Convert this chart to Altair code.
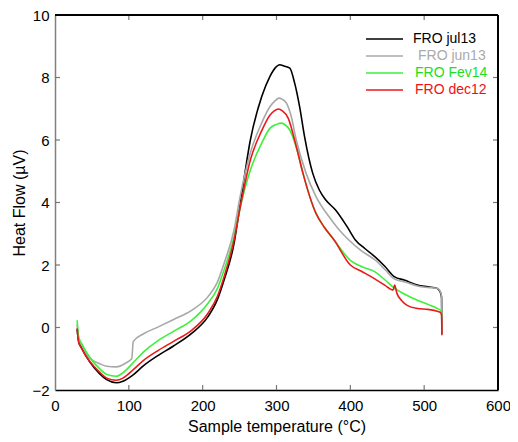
import altair as alt
import pandas as pd

# ---- data ----
series_names = ["FRO jul13", "FRO jun13", "FRO Fev14", "FRO dec12"]
series_colors = ["#000000", "#a8a8a8", "#3df03d", "#ea1a1a"]

jul13_T = [30, 32, 36, 47, 60, 70, 83, 92, 105, 120, 140, 160, 185, 207, 220, 229, 242.5,
           250, 264.6, 280, 291, 298, 304.5, 310, 318, 324.6, 331.3, 338, 349, 358, 366.8,
           380, 395, 406.8, 420, 433.5, 447, 460, 473, 490.7, 505, 517.8, 522, 523.6, 524]
jul13_HF = [-0.05, -0.45, -0.65, -1.10, -1.47, -1.67, -1.77, -1.72, -1.53, -1.22, -0.89, -0.60, -0.19, 0.34, 0.90, 1.52, 2.69,
            3.80, 6.00, 7.39, 8.03, 8.30, 8.41, 8.37, 8.30, 7.82, 7.07, 6.11, 4.94, 4.40, 4.08,
            3.76, 3.25, 2.80, 2.52, 2.26, 1.95, 1.62, 1.52, 1.36, 1.30, 1.25, 1.12, 0.95, -0.20]

jun13_T = [30, 32, 36, 47, 60, 70, 83, 95, 104, 106, 120, 140, 160, 185, 207, 220, 229, 242.5,
           250, 264.6, 280, 291.3, 298, 303.3, 308, 313.5, 320, 326.8, 340, 353.5, 371,
           385, 398, 415, 433.5, 447, 460, 475, 490.7, 505, 517.8, 522, 523.6, 524]
jun13_HF = [0.10, -0.35, -0.55, -0.98, -1.15, -1.24, -1.26, -1.15, -0.99, -0.45, -0.20, 0.02, 0.25, 0.55, 0.98, 1.45, 2.05, 3.12,
            4.10, 5.59, 6.55, 7.07, 7.25, 7.34, 7.30, 7.18, 6.75, 6.00, 4.94, 4.19, 3.55,
            3.12, 2.80, 2.45, 2.16, 1.85, 1.55, 1.45, 1.33, 1.28, 1.25, 1.15, 1.00, -0.20]

fev14_T = [30, 32, 36, 47, 60, 70, 83, 92, 105, 120, 140, 160, 185, 207, 220, 229, 242.5,
           250, 264.6, 280, 291.3, 300, 306.9, 312, 318, 329, 335.8, 353.5, 365, 378,
           400, 415, 433.5, 447, 460, 475, 490.7, 505, 517.8, 522, 523.6, 524]
fev14_HF = [0.23, -0.30, -0.51, -0.95, -1.31, -1.50, -1.56, -1.45, -1.15, -0.78, -0.41, -0.13, 0.23, 0.77, 1.25, 1.84, 2.90,
            3.75, 5.04, 5.90, 6.38, 6.50, 6.54, 6.48, 6.32, 5.58, 4.94, 3.65, 3.20, 2.80,
            2.15, 1.95, 1.78, 1.52, 1.25, 1.05, 0.875, 0.74, 0.61, 0.55, 0.45, 0.30]

dec12_T = [30, 32, 36, 47, 60, 70, 83, 92, 105, 120, 140, 160, 185, 207, 220, 229, 242.5,
           250, 264.6, 280, 291.3, 297, 302.5, 308, 315.8, 326.8, 335.8, 353.5, 365, 378,
           400, 415, 433.5, 447, 455, 458, 460, 463, 470, 477, 490.7, 505, 517.8, 522, 523.6, 524]
dec12_HF = [-0.03, -0.45, -0.67, -1.08, -1.42, -1.62, -1.69, -1.62, -1.37, -1.05, -0.73, -0.45, -0.09, 0.45, 1.00, 1.62, 2.80,
            3.75, 5.36, 6.30, 6.80, 6.93, 6.99, 6.93, 6.70, 5.79, 4.94, 3.65, 3.20, 2.80,
            2.00, 1.80, 1.55, 1.35, 1.22, 1.20, 1.36, 1.10, 0.85, 0.71, 0.61, 0.58, 0.52, 0.48, 0.40, -0.25]

x_ticks = [100, 200, 300, 400, 500]
y_ticks = [0, 2, 4, 6, 8]

# ---- layout ----
W, H = 443, 375
TICK_COLOR = "#777777"
FONT = "Liberation Sans"

x_scale = alt.Scale(domain=[0, 600], nice=False, zero=False)
y_scale = alt.Scale(domain=[-2, 10], nice=False, zero=False)
x_axis = alt.Axis(title="Sample temperature (°C)", values=[0, 100, 200, 300, 400, 500, 600],
                  ticks=False, grid=False, domainColor="#000000", domainWidth=1.5,
                  labelFontSize=15, labelPadding=8, titleFontSize=16, titleFontWeight="normal",
                  titlePadding=5, labelColor="#000000", titleColor="#000000", labelFont=FONT, titleFont=FONT,
                  labelFlush=False, labelOverlap=False)
y_axis = alt.Axis(title="Heat Flow (µV)", values=[-2, 0, 2, 4, 6, 8, 10],
                  ticks=False, grid=False, domainColor="#808080", domainWidth=1.5,
                  labelFontSize=15, labelPadding=6, titleFontSize=16, titleFontWeight="normal",
                  titlePadding=4, labelColor="#000000", titleColor="#000000", labelFont=FONT, titleFont=FONT,
                  labelFlush=False, labelOverlap=False)


def X(field):
    return alt.X(field, type="quantitative", scale=x_scale, axis=x_axis)


def Y(field):
    return alt.Y(field, type="quantitative", scale=y_scale, axis=y_axis)


layers = []
all_T = [jul13_T, jun13_T, fev14_T, dec12_T]
all_HF = [jul13_HF, jun13_HF, fev14_HF, dec12_HF]
for name, col, ts, hs in zip(series_names, series_colors, all_T, all_HF):
    df = pd.DataFrame({"T": ts, "HF": hs, "idx": range(len(ts)), "series": name})
    layers.append(
        alt.Chart(df).mark_line(color=col, strokeWidth=1.6, clip=True, interpolate="monotone").encode(
            x=X("T"), y=Y("HF"), order=alt.Order("idx:Q")
        )
    )

xt = pd.DataFrame({"v": x_ticks})
yt = pd.DataFrame({"v": y_ticks})
# inward ticks
layers.append(alt.Chart(xt).mark_rule(color=TICK_COLOR, strokeWidth=1.2).encode(
    x=X("v"), y=alt.value(H), y2=alt.value(H - 5)))
layers.append(alt.Chart(xt).mark_rule(color=TICK_COLOR, strokeWidth=1.2).encode(
    x=X("v"), y=alt.value(0), y2=alt.value(5)))
layers.append(alt.Chart(yt).mark_rule(color=TICK_COLOR, strokeWidth=1.2).encode(
    y=Y("v"), x=alt.value(0), x2=alt.value(5)))
layers.append(alt.Chart(yt).mark_rule(color=TICK_COLOR, strokeWidth=1.2).encode(
    y=Y("v"), x=alt.value(W), x2=alt.value(W - 5)))
# top and right frame
layers.append(alt.Chart(xt).mark_rule(color="#000000", strokeWidth=1.5).encode(
    x=alt.value(0), x2=alt.value(W), y=alt.value(0)))
layers.append(alt.Chart(xt).mark_rule(color="#000000", strokeWidth=1.5).encode(
    x=alt.value(W), y=alt.value(0), y2=alt.value(H)))

# legend (top right, inside the plot)
legend_rows = [24, 41, 58, 75]
legend_text_x = [358, 363, 360, 360]
legend_text_colors = ["#000000", "#aaaaaa", "#22dd22", "#ee1111"]
for name, col, tcol, ry, tx in zip(series_names, series_colors, legend_text_colors, legend_rows, legend_text_x):
    ld = pd.DataFrame({"label": [name]})
    layers.append(alt.Chart(ld).mark_rule(color=col, strokeWidth=1.3).encode(
        x=alt.value(311), x2=alt.value(348), y=alt.value(ry)))
    layers.append(alt.Chart(ld).mark_text(align="left", baseline="middle", fontSize=14,
                                          font=FONT, color=tcol).encode(
        x=alt.value(tx), y=alt.value(ry), text="label:N"))

chart = alt.layer(*layers).properties(
    width=W, height=H,
    autosize=alt.AutoSizeParams(type="none"),
    padding={"left": 47, "top": 7, "right": 12, "bottom": 50},
).configure_view(stroke=None).configure(background="white")

chart.save("out.html", embed_options={"renderer": "svg", "actions": False})
